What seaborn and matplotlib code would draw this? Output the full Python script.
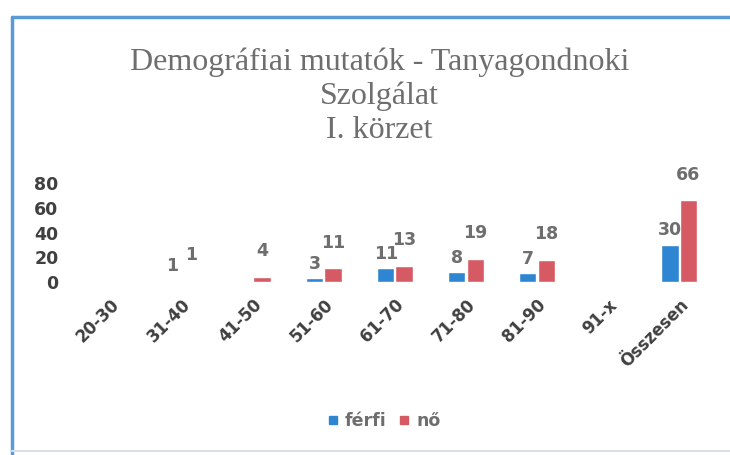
"""
Demographic bar chart - Tanyagondnoki Szolgalat, I. korzet
"""
import matplotlib
matplotlib.use('Agg')
import matplotlib.pyplot as plt
from matplotlib.lines import Line2D
import pandas as pd
import seaborn as sns

# Data
categories = ['20-30', '31-40', '41-50', '51-60', '61-70',
              '71-80', '81-90', '91-x', 'Összesen']
ferfi = [0, 1, 0, 3, 11, 8, 7, 0, 30]
no = [0, 1, 4, 11, 13, 19, 18, 0, 66]
series = ['férfi', 'nő']
yticks = [0, 20, 40, 60, 80]

BLUE = '#2e86d2'
RED = '#d65a64'
GRAY = '#6e6e6e'
DARK = '#404040'

df = pd.DataFrame({
    'korosztaly': categories * 2,
    'nem': [series[0]] * len(categories) + [series[1]] * len(categories),
    'fo': ferfi + no,
})

sns.set_theme(style='white')
plt.rcParams['font.family'] = ['DejaVu Sans']

fig = plt.figure(figsize=(7.3, 4.55), dpi=100)
ax = fig.add_axes([0.103, 0.380, 0.876, 0.218])

sns.barplot(
    data=df, x='korosztaly', y='fo', hue='nem',
    order=categories, hue_order=series,
    palette=[BLUE, RED], saturation=1, width=0.52, gap=0.06,
    errorbar=None, legend=False, ax=ax,
)

# Value labels (zeros hidden)
for cont, pad in zip(ax.containers, [4, 12]):
    labels = [str(int(v)) if v else '' for v in cont.datavalues]
    ax.bar_label(cont, labels=labels, padding=pad, fontsize=12.5,
                 fontweight='bold', color=GRAY, clip_on=False)

ax.set_ylim(0, 80)
ax.set_xlim(-0.5, len(categories) - 0.5)
ax.set_yticks(yticks)
ax.set_xlabel('')
ax.set_ylabel('')
sns.despine(ax=ax, left=True, bottom=True)
ax.tick_params(axis='both', length=0)
ax.tick_params(axis='y', pad=12, labelsize=12.5, labelcolor=DARK)
ax.tick_params(axis='x', pad=10, labelsize=12, labelcolor=DARK)
for t in ax.get_yticklabels():
    t.set_fontweight('bold')
for t in ax.get_xticklabels():
    t.set_fontweight('bold')
    t.set_rotation(45)
    t.set_ha('right')
    t.set_rotation_mode('anchor')

# Title in serif
fig.text(0.52, 0.895,
         'Demográfiai mutatók - Tanyagondnoki\nSzolgálat\nI. körzet',
         ha='center', va='top', fontsize=23, color=GRAY,
         family=['Liberation Serif', 'DejaVu Serif'], linespacing=1.2)

# Legend
handles = [Line2D([], [], marker='s', linestyle='', markersize=6, color=c)
           for c in (BLUE, RED)]
fig.legend(handles, series, loc='center', bbox_to_anchor=(0.525, 0.075),
           ncol=2, frameon=False, labelcolor=GRAY, handlelength=0.8,
           handletextpad=0.3, columnspacing=0.6, prop={'weight': 'bold', 'size': 12.5})

# Frame lines round the chart
fig.add_artist(Line2D([0.016, 0.016], [0.0, 0.962], color='#5b9bd5', lw=2.5,
                      transform=fig.transFigure))
fig.add_artist(Line2D([0.016, 1.0], [0.962, 0.962], color='#5b9bd5', lw=2.5,
                      transform=fig.transFigure))
fig.add_artist(Line2D([0.016, 1.0], [0.008, 0.008], color='#d9e2ec', lw=1.5,
                      transform=fig.transFigure))

fig.savefig('out.png', dpi=100)
